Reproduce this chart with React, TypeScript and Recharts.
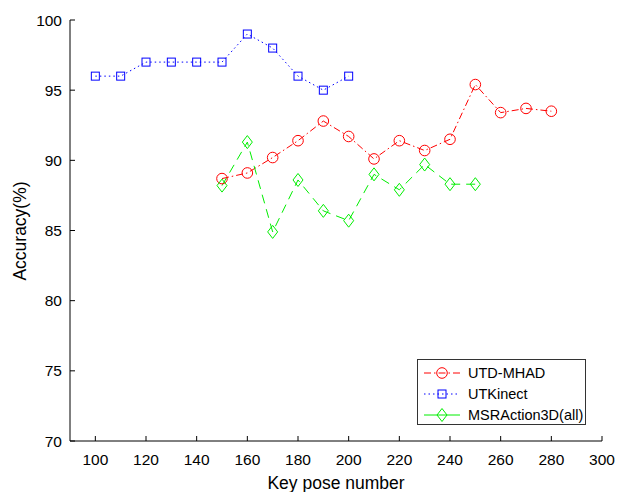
import React from 'react'
import { LineChart, Line, XAxis, YAxis } from 'recharts'

const utdPoses = [150, 160, 170, 180, 190, 200, 210, 220, 230, 240, 250, 260, 270, 280]
const utdAcc = [88.7, 89.1, 90.2, 91.4, 92.8, 91.7, 90.1, 91.4, 90.7, 91.5, 95.4, 93.4, 93.7, 93.5]

const utkPoses = [100, 110, 120, 130, 140, 150, 160, 170, 180, 190, 200]
const utkAcc = [96, 96, 97, 97, 97, 97, 99, 98, 96, 95, 96]

const msrPoses = [150, 160, 170, 180, 190, 200, 210, 220, 230, 240, 250]
const msrAcc = [88.2, 91.3, 84.9, 88.6, 86.4, 85.7, 89.0, 87.9, 89.7, 88.3, 88.3]

const xTicks = [100, 120, 140, 160, 180, 200, 220, 240, 260, 280, 300]
const yTicks = [70, 75, 80, 85, 90, 95, 100]

const FONT = '"Liberation Sans", Arial, Helvetica, sans-serif'
const RED = '#ff0000'
const BLUE = '#0000ff'
const GREEN = '#00ee00'

const toRows = (xs: number[], ys: number[]) => xs.map((x, i) => ({ x, acc: ys[i] }))

const circleMark = (cx: number, cy: number, key?: string) => (
  <circle key={key} cx={cx} cy={cy} r={5.3} fill="none" stroke={RED} strokeWidth={1} />
)
const squareMark = (cx: number, cy: number, key?: string) => (
  <rect key={key} x={cx - 4} y={cy - 4} width={8} height={8} fill="none" stroke={BLUE} strokeWidth={1} />
)
const diamondMark = (cx: number, cy: number, key?: string) => (
  <polygon
    key={key}
    points={`${cx},${cy - 6.5} ${cx + 5},${cy} ${cx},${cy + 6.5} ${cx - 5},${cy}`}
    fill="none"
    stroke={GREEN}
    strokeWidth={1}
  />
)

const dotFn = (mark: typeof circleMark) => (p: any) =>
  p.cx == null || p.cy == null ? <g key={p.key} /> : mark(p.cx, p.cy, p.key)

function XTick({ x, y, payload }: any) {
  return (
    <g>
      <line x1={x} x2={x} y1={y} y2={y - 5} stroke="#000" />
      <text x={x} y={y + 24} textAnchor="middle" fontSize={15.5} fontFamily={FONT} fill="#000">
        {payload.value}
      </text>
    </g>
  )
}

function YTick({ x, y, payload }: any) {
  return (
    <g>
      <line x1={x} x2={x + 5} y1={y} y2={y} stroke="#000" />
      <text x={x - 8} y={y + 5.5} textAnchor="end" fontSize={15.5} fontFamily={FONT} fill="#000">
        {payload.value}
      </text>
    </g>
  )
}

const legendItems = [
  { name: 'UTD-MHAD', color: RED, dash: '7 3 1.5 3', mark: circleMark },
  { name: 'UTKinect', color: BLUE, dash: '1.5 3', mark: squareMark },
  { name: 'MSRAction3D(all)', color: GREEN, dash: '', mark: diamondMark },
]

function LegendBox() {
  return (
    <div
      style={{
        position: 'absolute',
        left: 417,
        top: 359,
        width: 167,
        height: 61,
        border: '1px solid #333',
        background: '#fff',
        fontFamily: FONT,
        fontSize: 14.5,
        paddingTop: 3,
      }}
    >
      {legendItems.map((it) => (
        <div key={it.name} style={{ display: 'flex', alignItems: 'center', height: 20.7 }}>
          <svg width={44} height={20} style={{ marginLeft: 4 }}>
            <line x1={2} x2={38} y1={10} y2={10} stroke={it.color} strokeDasharray={it.dash || undefined} />
            {it.mark(20, 10)}
          </svg>
          <span style={{ marginLeft: 2, color: '#000' }}>{it.name}</span>
        </div>
      ))}
    </div>
  )
}

export default function App() {
  return (
    <div style={{ position: 'absolute', left: 0, top: 0, width: 617, height: 492, background: '#fff' }}>
      <LineChart width={617} height={492} margin={{ top: 20, right: 15, left: 20, bottom: 0 }}>
        <XAxis
          type="number"
          dataKey="x"
          domain={[90, 300]}
          ticks={xTicks}
          allowDuplicatedCategory={false}
          height={51}
          tickSize={0}
          tickMargin={0}
          tickLine={false}
          axisLine={{ stroke: '#000' }}
          tick={<XTick />}
          interval={0}
        />
        <YAxis
          type="number"
          domain={[70, 100]}
          ticks={yTicks}
          width={50}
          tickSize={0}
          tickMargin={0}
          tickLine={false}
          axisLine={{ stroke: '#000' }}
          tick={<YTick />}
          interval={0}
        />
        <Line
          data={toRows(utdPoses, utdAcc)}
          dataKey="acc"
          name="UTD-MHAD"
          stroke={RED}
          strokeWidth={1}
          strokeDasharray="7 3 1.5 3"
          dot={dotFn(circleMark)}
          activeDot={false}
          isAnimationActive={false}
        />
        <Line
          data={toRows(utkPoses, utkAcc)}
          dataKey="acc"
          name="UTKinect"
          stroke={BLUE}
          strokeWidth={1}
          strokeDasharray="1.5 3"
          dot={dotFn(squareMark)}
          activeDot={false}
          isAnimationActive={false}
        />
        <Line
          data={toRows(msrPoses, msrAcc)}
          dataKey="acc"
          name="MSRAction3D(all)"
          stroke={GREEN}
          strokeWidth={1}
          strokeDasharray="9 6"
          dot={dotFn(diamondMark)}
          activeDot={false}
          isAnimationActive={false}
        />
      </LineChart>
      <LegendBox />
      <div
        style={{
          position: 'absolute',
          left: 70,
          width: 532,
          top: 473,
          textAlign: 'center',
          fontFamily: FONT,
          fontSize: 17.5,
          lineHeight: '20px',
          color: '#000',
        }}
      >
        Key pose number
      </div>
      <div
        style={{
          position: 'absolute',
          left: 20,
          top: 231,
          transform: 'translate(-50%, -50%) rotate(-90deg)',
          fontFamily: FONT,
          fontSize: 17.5,
          lineHeight: '20px',
          whiteSpace: 'nowrap',
          color: '#000',
        }}
      >
        Accuracy(%)
      </div>
    </div>
  )
}
